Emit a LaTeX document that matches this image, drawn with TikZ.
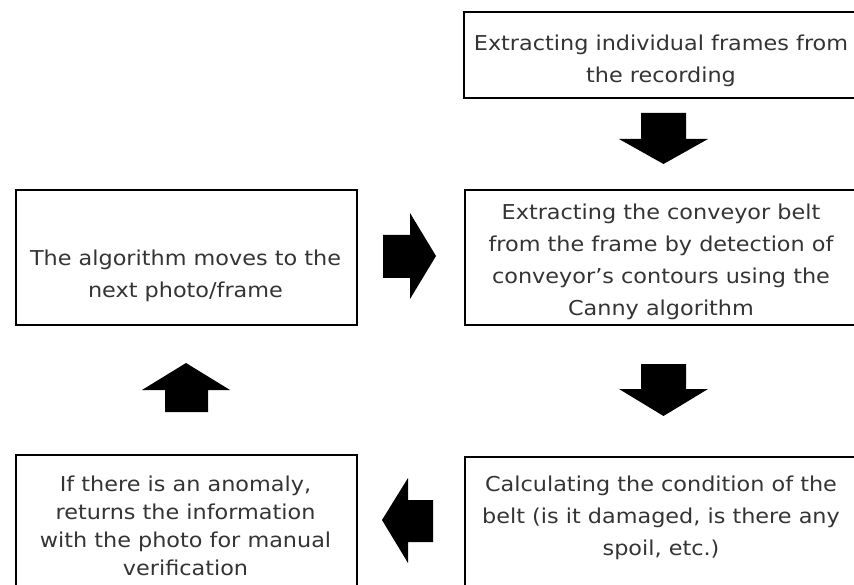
\documentclass[tikz,border=0pt]{standalone}
\usepackage{fontspec}
\setmainfont{DejaVu Sans}[FakeStretch=1.09]
\definecolor{txtgray}{RGB}{52,52,52}
\begin{document}
\begin{tikzpicture}[x=1pt,y=-1pt,
  box/.style={draw=black,line width=2pt,anchor=north west,inner sep=0pt},
  lbl/.style={text=txtgray,font=\fontsize{20.5}{32}\selectfont,align=center,inner sep=0pt},
  blk/.style={fill=black}]
\useasboundingbox (0,0) rectangle (854,585);
\clip (0,0) rectangle (854,585);
% boxes
\node[box,minimum width=397pt,minimum height=86pt] (b1) at (463,11) {};
\node[box,minimum width=397pt,minimum height=135pt] (b2) at (464,189) {};
\node[box,minimum width=341pt,minimum height=135pt] (b3) at (15,189) {};
\node[box,minimum width=341pt,minimum height=150pt] (b4) at (15,454) {};
\node[box,minimum width=397pt,minimum height=150pt] (b5) at (464,456) {};
% texts
\node[lbl] (t1) at (661,61) {Extracting individual frames from\\the recording};
\node[lbl] (t2) at (661,262) {Extracting the conveyor belt\\from the frame by detection of\\conveyor’s contours using the\\Canny algorithm};
\node[lbl] (t3) at (185.5,276) {The algorithm moves to the\\next photo/frame};
\node[lbl,font=\fontsize{20.5}{28}\selectfont] (t4) at (185.5,526) {If there is an anomaly,\\returns the information\\with the photo for manual\\verification};
\node[lbl] (t5) at (661,518) {Calculating the condition of the\\belt (is it damaged, is there any\\spoil, etc.)};
% block arrows
\fill[blk] (641,113) -- (686,113) -- (686,139) -- (708,139) -- (663.5,164) -- (619,139) -- (641,139) -- cycle;
\fill[blk] (641,364) -- (686,364) -- (686,389) -- (708,389) -- (663.5,416) -- (619,389) -- (641,389) -- cycle;
\fill[blk] (383,235) -- (410,235) -- (410,213) -- (436,256) -- (410,299) -- (410,278) -- (383,278) -- cycle;
\fill[blk] (433,500) -- (408,500) -- (408,478) -- (382,520) -- (408,563) -- (408,542) -- (433,542) -- cycle;
\fill[blk] (165,412) -- (165,390) -- (142,390) -- (186,363) -- (230,390) -- (208,390) -- (208,412) -- cycle;
\end{tikzpicture}
\end{document}
